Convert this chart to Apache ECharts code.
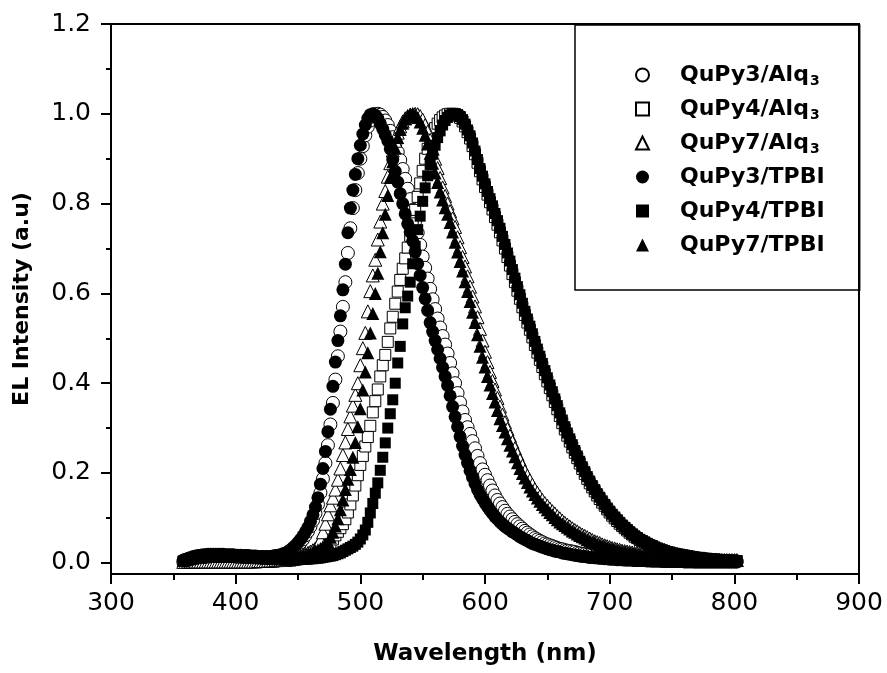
<!DOCTYPE html>
<html>
<head>
<meta charset="utf-8">
<script src="https://cdn.jsdelivr.net/npm/echarts@6/dist/echarts.min.js"></script>
<style>
  html, body { margin: 0; background: #fff; }
  #chart { width: 887px; height: 673px; }
</style>
</head>
<body>
<div id="chart"></div>
<script>
// wavelength grid of the spectra (nm)
const wlStart = 358
const wlStep = 2

// EL intensity, one value per 2 nm from 358 to 802 nm (rows of 20 nm)
const qupy3Alq3 = [
  0.002, 0.003, 0.003, 0.003, 0.004, 0.004, 0.004, 0.004, 0.004, 0.004,
  0.004, 0.004, 0.004, 0.004, 0.004, 0.004, 0.004, 0.004, 0.004, 0.004,
  0.004, 0.004, 0.004, 0.004, 0.004, 0.004, 0.004, 0.004, 0.004, 0.004,
  0.004, 0.004, 0.004, 0.005, 0.005, 0.006, 0.007, 0.008, 0.010, 0.012,
  0.014, 0.016, 0.019, 0.023, 0.027, 0.032, 0.038, 0.045, 0.052, 0.061,
  0.070, 0.081, 0.094, 0.110, 0.130, 0.156, 0.187, 0.222, 0.262, 0.308,
  0.356, 0.408, 0.460, 0.515, 0.570, 0.625, 0.690, 0.745, 0.790, 0.830,
  0.868, 0.900, 0.928, 0.952, 0.971, 0.985, 0.994, 0.999, 1.000, 0.998,
  0.993, 0.985, 0.975, 0.962, 0.948, 0.932, 0.915, 0.897, 0.877, 0.855,
  0.833, 0.810, 0.786, 0.761, 0.735, 0.708, 0.682, 0.657, 0.633, 0.610,
  0.587, 0.565, 0.544, 0.524, 0.505, 0.486, 0.466, 0.445, 0.422, 0.400,
  0.378, 0.357, 0.337, 0.318, 0.302, 0.287, 0.271, 0.255, 0.238, 0.222,
  0.208, 0.196, 0.184, 0.172, 0.161, 0.150, 0.140, 0.132, 0.124, 0.116,
  0.109, 0.103, 0.097, 0.091, 0.086, 0.081, 0.076, 0.071, 0.067, 0.063,
  0.059, 0.055, 0.052, 0.049, 0.046, 0.043, 0.041, 0.039, 0.037, 0.035,
  0.033, 0.031, 0.030, 0.028, 0.027, 0.026, 0.025, 0.024, 0.022, 0.021,
  0.020, 0.019, 0.018, 0.017, 0.016, 0.015, 0.015, 0.014, 0.013, 0.013,
  0.012, 0.012, 0.011, 0.010, 0.010, 0.009, 0.009, 0.009, 0.008, 0.008,
  0.008, 0.007, 0.007, 0.007, 0.006, 0.006, 0.006, 0.006, 0.005, 0.005,
  0.005, 0.005, 0.005, 0.005, 0.005, 0.004, 0.004, 0.004, 0.004, 0.004,
  0.004, 0.004, 0.004, 0.004, 0.004, 0.003, 0.003, 0.003, 0.003, 0.003,
  0.003, 0.003, 0.003, 0.003, 0.003, 0.003, 0.003, 0.003, 0.003, 0.003,
  0.003, 0.003, 0.003
]
const qupy4Alq3 = [
  0.002, 0.002, 0.002, 0.003, 0.003, 0.003, 0.003, 0.003, 0.003, 0.003,
  0.003, 0.003, 0.003, 0.003, 0.003, 0.003, 0.003, 0.003, 0.003, 0.003,
  0.003, 0.003, 0.003, 0.003, 0.003, 0.003, 0.003, 0.003, 0.003, 0.003,
  0.003, 0.003, 0.003, 0.003, 0.003, 0.003, 0.003, 0.004, 0.004, 0.004,
  0.004, 0.004, 0.005, 0.005, 0.006, 0.007, 0.008, 0.010, 0.012, 0.014,
  0.016, 0.019, 0.022, 0.025, 0.028, 0.031, 0.034, 0.037, 0.040, 0.044,
  0.052, 0.061, 0.069, 0.077, 0.086, 0.097, 0.112, 0.130, 0.150, 0.172,
  0.195, 0.218, 0.238, 0.259, 0.280, 0.305, 0.335, 0.360, 0.386, 0.415,
  0.440, 0.463, 0.492, 0.522, 0.548, 0.577, 0.604, 0.630, 0.655, 0.678,
  0.702, 0.728, 0.756, 0.786, 0.815, 0.845, 0.873, 0.900, 0.922, 0.940,
  0.955, 0.968, 0.978, 0.986, 0.992, 0.996, 0.999, 1.000, 1.000, 0.999,
  0.996, 0.991, 0.983, 0.972, 0.959, 0.945, 0.928, 0.910, 0.891, 0.872,
  0.854, 0.837, 0.820, 0.803, 0.787, 0.770, 0.753, 0.736, 0.718, 0.700,
  0.681, 0.662, 0.643, 0.625, 0.606, 0.588, 0.569, 0.552, 0.535, 0.519,
  0.502, 0.485, 0.468, 0.452, 0.436, 0.420, 0.404, 0.389, 0.373, 0.358,
  0.342, 0.327, 0.311, 0.297, 0.283, 0.270, 0.257, 0.245, 0.233, 0.221,
  0.209, 0.198, 0.187, 0.177, 0.168, 0.159, 0.150, 0.142, 0.134, 0.127,
  0.119, 0.112, 0.105, 0.099, 0.093, 0.087, 0.082, 0.077, 0.072, 0.067,
  0.063, 0.058, 0.055, 0.051, 0.048, 0.045, 0.042, 0.039, 0.037, 0.034,
  0.032, 0.030, 0.028, 0.026, 0.024, 0.023, 0.021, 0.020, 0.019, 0.018,
  0.017, 0.016, 0.015, 0.014, 0.013, 0.012, 0.011, 0.011, 0.010, 0.009,
  0.009, 0.008, 0.008, 0.007, 0.007, 0.006, 0.006, 0.006, 0.005, 0.005,
  0.005, 0.004, 0.004
]
const qupy7Alq3 = [
  0.002, 0.002, 0.003, 0.003, 0.003, 0.003, 0.003, 0.003, 0.003, 0.003,
  0.003, 0.003, 0.003, 0.003, 0.003, 0.003, 0.003, 0.003, 0.003, 0.003,
  0.003, 0.003, 0.003, 0.003, 0.003, 0.003, 0.003, 0.003, 0.003, 0.003,
  0.004, 0.004, 0.004, 0.004, 0.005, 0.005, 0.005, 0.006, 0.006, 0.007,
  0.007, 0.008, 0.009, 0.010, 0.011, 0.012, 0.014, 0.016, 0.018, 0.020,
  0.022, 0.025, 0.028, 0.032, 0.040, 0.051, 0.068, 0.087, 0.108, 0.128,
  0.145, 0.163, 0.185, 0.210, 0.240, 0.268, 0.298, 0.326, 0.350, 0.374,
  0.400, 0.440, 0.478, 0.512, 0.560, 0.605, 0.640, 0.675, 0.720, 0.760,
  0.800, 0.828, 0.860, 0.890, 0.918, 0.940, 0.958, 0.972, 0.983, 0.990,
  0.995, 0.998, 0.999, 1.000, 0.999, 0.995, 0.987, 0.975, 0.960, 0.942,
  0.922, 0.900, 0.879, 0.857, 0.836, 0.817, 0.800, 0.783, 0.767, 0.748,
  0.725, 0.703, 0.681, 0.660, 0.638, 0.615, 0.593, 0.571, 0.547, 0.521,
  0.495, 0.470, 0.447, 0.425, 0.405, 0.386, 0.367, 0.348, 0.330, 0.313,
  0.298, 0.283, 0.269, 0.255, 0.242, 0.229, 0.216, 0.204, 0.194, 0.184,
  0.174, 0.164, 0.156, 0.148, 0.140, 0.133, 0.127, 0.121, 0.115, 0.110,
  0.104, 0.099, 0.094, 0.089, 0.085, 0.081, 0.077, 0.073, 0.070, 0.066,
  0.063, 0.060, 0.057, 0.054, 0.051, 0.048, 0.046, 0.044, 0.041, 0.039,
  0.037, 0.035, 0.033, 0.032, 0.030, 0.029, 0.027, 0.026, 0.025, 0.024,
  0.023, 0.022, 0.021, 0.020, 0.019, 0.018, 0.017, 0.016, 0.016, 0.015,
  0.014, 0.014, 0.013, 0.013, 0.012, 0.012, 0.011, 0.011, 0.011, 0.010,
  0.010, 0.010, 0.009, 0.009, 0.009, 0.009, 0.008, 0.008, 0.008, 0.008,
  0.007, 0.007, 0.007, 0.007, 0.007, 0.007, 0.006, 0.006, 0.006, 0.006,
  0.006, 0.006, 0.006
]
const qupy3Tpbi = [
  0.006, 0.008, 0.010, 0.012, 0.014, 0.015, 0.016, 0.017, 0.018, 0.018,
  0.019, 0.019, 0.019, 0.019, 0.019, 0.019, 0.019, 0.018, 0.018, 0.018,
  0.018, 0.017, 0.017, 0.017, 0.016, 0.016, 0.016, 0.015, 0.015, 0.015,
  0.014, 0.014, 0.014, 0.014, 0.014, 0.014, 0.015, 0.016, 0.017, 0.018,
  0.020, 0.022, 0.025, 0.029, 0.034, 0.039, 0.045, 0.052, 0.060, 0.069,
  0.079, 0.092, 0.107, 0.124, 0.145, 0.175, 0.210, 0.248, 0.292, 0.342,
  0.393, 0.447, 0.495, 0.550, 0.608, 0.665, 0.735, 0.790, 0.830, 0.865,
  0.900, 0.930, 0.955, 0.975, 0.990, 0.998, 1.000, 0.997, 0.990, 0.978,
  0.966, 0.953, 0.940, 0.922, 0.898, 0.872, 0.848, 0.822, 0.800, 0.777,
  0.755, 0.737, 0.717, 0.692, 0.666, 0.640, 0.613, 0.588, 0.562, 0.535,
  0.515, 0.495, 0.475, 0.455, 0.435, 0.415, 0.395, 0.372, 0.348, 0.325,
  0.303, 0.281, 0.260, 0.240, 0.222, 0.205, 0.190, 0.176, 0.163, 0.152,
  0.142, 0.133, 0.125, 0.117, 0.110, 0.103, 0.097, 0.091, 0.086, 0.081,
  0.077, 0.073, 0.069, 0.066, 0.062, 0.058, 0.055, 0.052, 0.049, 0.046,
  0.043, 0.041, 0.039, 0.037, 0.035, 0.033, 0.031, 0.029, 0.028, 0.026,
  0.025, 0.024, 0.022, 0.021, 0.020, 0.019, 0.018, 0.017, 0.016, 0.015,
  0.014, 0.014, 0.013, 0.012, 0.012, 0.011, 0.011, 0.010, 0.010, 0.009,
  0.009, 0.008, 0.008, 0.008, 0.007, 0.007, 0.007, 0.006, 0.006, 0.006,
  0.006, 0.005, 0.005, 0.005, 0.005, 0.005, 0.004, 0.004, 0.004, 0.004,
  0.004, 0.004, 0.003, 0.003, 0.003, 0.003, 0.003, 0.003, 0.003, 0.003,
  0.003, 0.002, 0.002, 0.002, 0.002, 0.002, 0.002, 0.002, 0.002, 0.002,
  0.002, 0.002, 0.002, 0.002, 0.002, 0.002, 0.002, 0.002, 0.002, 0.002,
  0.002, 0.002, 0.002
]
const qupy4Tpbi = [
  0.004, 0.005, 0.006, 0.007, 0.008, 0.009, 0.010, 0.010, 0.011, 0.011,
  0.012, 0.012, 0.012, 0.012, 0.012, 0.012, 0.012, 0.012, 0.012, 0.012,
  0.012, 0.012, 0.011, 0.011, 0.011, 0.011, 0.010, 0.010, 0.010, 0.010,
  0.009, 0.009, 0.009, 0.008, 0.008, 0.008, 0.008, 0.007, 0.007, 0.007,
  0.007, 0.007, 0.007, 0.007, 0.007, 0.007, 0.007, 0.008, 0.008, 0.008,
  0.008, 0.009, 0.009, 0.010, 0.010, 0.011, 0.012, 0.013, 0.014, 0.015,
  0.016, 0.018, 0.020, 0.022, 0.025, 0.028, 0.031, 0.034, 0.037, 0.041,
  0.046, 0.053, 0.062, 0.073, 0.090, 0.111, 0.132, 0.155, 0.178, 0.206,
  0.235, 0.267, 0.300, 0.332, 0.363, 0.400, 0.445, 0.482, 0.532, 0.568,
  0.594, 0.625, 0.666, 0.705, 0.742, 0.772, 0.805, 0.835, 0.862, 0.887,
  0.910, 0.930, 0.947, 0.962, 0.975, 0.985, 0.992, 0.997, 1.000, 1.000,
  0.998, 0.994, 0.987, 0.977, 0.964, 0.951, 0.935, 0.917, 0.898, 0.878,
  0.861, 0.844, 0.827, 0.811, 0.795, 0.778, 0.762, 0.745, 0.727, 0.709,
  0.690, 0.672, 0.653, 0.634, 0.615, 0.597, 0.578, 0.560, 0.543, 0.527,
  0.510, 0.493, 0.476, 0.460, 0.444, 0.428, 0.412, 0.396, 0.381, 0.365,
  0.350, 0.334, 0.318, 0.303, 0.289, 0.276, 0.263, 0.250, 0.238, 0.226,
  0.214, 0.203, 0.192, 0.182, 0.172, 0.163, 0.154, 0.146, 0.138, 0.130,
  0.122, 0.115, 0.108, 0.102, 0.096, 0.090, 0.084, 0.079, 0.074, 0.069,
  0.064, 0.060, 0.056, 0.052, 0.049, 0.046, 0.043, 0.040, 0.038, 0.035,
  0.032, 0.030, 0.028, 0.026, 0.025, 0.023, 0.022, 0.020, 0.019, 0.018,
  0.017, 0.016, 0.015, 0.014, 0.013, 0.012, 0.011, 0.011, 0.010, 0.009,
  0.009, 0.008, 0.008, 0.007, 0.007, 0.006, 0.006, 0.006, 0.005, 0.005,
  0.005, 0.004, 0.004
]
const qupy7Tpbi = [
  0.005, 0.007, 0.009, 0.011, 0.013, 0.014, 0.015, 0.016, 0.017, 0.017,
  0.018, 0.018, 0.018, 0.018, 0.018, 0.018, 0.018, 0.017, 0.017, 0.017,
  0.017, 0.016, 0.016, 0.016, 0.015, 0.015, 0.015, 0.014, 0.014, 0.014,
  0.013, 0.013, 0.012, 0.012, 0.012, 0.011, 0.011, 0.011, 0.011, 0.011,
  0.011, 0.011, 0.011, 0.012, 0.012, 0.013, 0.014, 0.015, 0.016, 0.018,
  0.019, 0.021, 0.023, 0.026, 0.029, 0.032, 0.036, 0.041, 0.047, 0.057,
  0.068, 0.082, 0.098, 0.118, 0.140, 0.163, 0.186, 0.208, 0.235, 0.268,
  0.303, 0.343, 0.385, 0.425, 0.468, 0.512, 0.555, 0.600, 0.645, 0.693,
  0.735, 0.776, 0.818, 0.858, 0.893, 0.923, 0.947, 0.965, 0.979, 0.989,
  0.995, 0.999, 1.000, 0.998, 0.992, 0.982, 0.968, 0.952, 0.933, 0.912,
  0.890, 0.868, 0.847, 0.826, 0.808, 0.791, 0.776, 0.758, 0.737, 0.714,
  0.692, 0.671, 0.650, 0.626, 0.604, 0.582, 0.558, 0.535, 0.508, 0.482,
  0.458, 0.436, 0.415, 0.396, 0.377, 0.358, 0.339, 0.321, 0.306, 0.291,
  0.276, 0.262, 0.249, 0.236, 0.223, 0.210, 0.199, 0.189, 0.179, 0.169,
  0.160, 0.152, 0.144, 0.137, 0.130, 0.124, 0.118, 0.112, 0.107, 0.101,
  0.096, 0.091, 0.087, 0.083, 0.079, 0.075, 0.071, 0.068, 0.064, 0.061,
  0.058, 0.055, 0.052, 0.049, 0.047, 0.045, 0.042, 0.040, 0.038, 0.036,
  0.034, 0.032, 0.031, 0.029, 0.028, 0.026, 0.025, 0.024, 0.023, 0.022,
  0.021, 0.020, 0.019, 0.018, 0.017, 0.016, 0.016, 0.015, 0.014, 0.014,
  0.013, 0.013, 0.012, 0.012, 0.011, 0.011, 0.010, 0.010, 0.010, 0.009,
  0.009, 0.009, 0.008, 0.008, 0.008, 0.008, 0.007, 0.007, 0.007, 0.007,
  0.006, 0.006, 0.006, 0.006, 0.006, 0.006, 0.005, 0.005, 0.005, 0.005,
  0.005, 0.005, 0.005
]

const seriesNames = ['QuPy3/Alq3', 'QuPy4/Alq3', 'QuPy7/Alq3', 'QuPy3/TPBI', 'QuPy4/TPBI', 'QuPy7/TPBI']
const seriesValues = [qupy3Alq3, qupy4Alq3, qupy7Alq3, qupy3Tpbi, qupy4Tpbi, qupy7Tpbi]
const xTicks = [300, 400, 500, 600, 700, 800, 900]
const yTicks = [0, 0.2, 0.4, 0.6, 0.8, 1.0, 1.2]
const yMinorTicks = [0.1, 0.3, 0.5, 0.7, 0.9, 1.1]

// marker per series: open symbols for Alq3, filled for TPBI
const markers = [
  { symbol: 'circle', size: 13, open: true },
  { symbol: 'rect', size: 11, open: true },
  { symbol: 'triangle', size: 13, open: true },
  { symbol: 'circle', size: 13, open: false },
  { symbol: 'rect', size: 11, open: false },
  { symbol: 'triangle', size: 13, open: false }
]

const FONT = 'DejaVu Sans'
const chart = echarts.init(document.getElementById('chart'))

const toPoints = (vals) => vals.map((v, i) => [wlStart + i * wlStep, v])

const series = seriesNames.map((name, k) => ({
  name: name,
  type: 'scatter',
  data: toPoints(seriesValues[k]),
  symbol: markers[k].symbol,
  symbolSize: markers[k].size,
  itemStyle: {
    color: markers[k].open ? '#ffffff' : '#000000',
    borderColor: '#000000',
    borderWidth: markers[k].open ? 1 : 0,
    opacity: 1
  },
  emphasis: { disabled: true },
  silent: true
}))

const tickLine = { color: '#000', width: 2 }

const option = {
  animation: false,
  backgroundColor: '#fff',
  textStyle: { fontFamily: FONT },
  grid: {
    left: 111, right: 28, top: 24, bottom: 99,
    show: true, borderColor: '#000', borderWidth: 2, backgroundColor: 'transparent'
  },
  legend: {
    orient: 'vertical',
    left: 575,
    top: 25,
    padding: [37, 35, 32, 60],
    itemWidth: 13,
    itemHeight: 13,
    itemGap: 8,
    borderColor: '#000',
    borderWidth: 1.5,
    selectedMode: false,
    data: seriesNames,
    formatter: (name) => name.endsWith('Alq3')
      ? '{g|}{m|' + name.slice(0, -1) + '}{s|3}'
      : '{g|}{m|' + name + '}',
    textStyle: {
      color: '#000',
      fontFamily: FONT,
      fontWeight: 'bold',
      fontSize: 22,
      lineHeight: 26,
      rich: {
        g: { width: 26, lineHeight: 26 },
        m: { fontFamily: FONT, fontWeight: 'bold', fontSize: 22, lineHeight: 26, color: '#000' },
        s: { fontFamily: FONT, fontWeight: 'bold', fontSize: 14, lineHeight: 10, verticalAlign: 'bottom', padding: [0, 0, 0, 1], color: '#000' }
      }
    }
  },
  xAxis: {
    type: 'value',
    min: xTicks[0],
    max: xTicks[xTicks.length - 1],
    interval: 100,
    name: 'Wavelength (nm)',
    nameLocation: 'middle',
    nameGap: 69,
    nameTextStyle: { fontFamily: FONT, fontWeight: 'bold', fontSize: 23, color: '#000' },
    axisLine: { onZero: false, lineStyle: tickLine },
    axisTick: { length: 10, lineStyle: tickLine },
    minorTick: { show: true, splitNumber: 2, length: 6, lineStyle: tickLine },
    axisLabel: { color: '#000', fontFamily: FONT, fontSize: 25, margin: 17 },
    splitLine: { show: false }
  },
  yAxis: [
    {
      type: 'value',
      min: -0.025,
      max: 1.2,
      name: 'EL Intensity (a.u)',
      nameLocation: 'middle',
      nameGap: 78,
      nameTextStyle: { fontFamily: FONT, fontWeight: 'bold', fontSize: 22, color: '#000' },
      axisLine: { show: true, onZero: false, lineStyle: tickLine },
      axisTick: { show: true, length: 10, lineStyle: tickLine, customValues: yTicks },
      axisLabel: {
        color: '#000', fontFamily: FONT, fontSize: 25, margin: 20,
        customValues: yTicks,
        formatter: (v) => v.toFixed(1)
      },
      splitLine: { show: false }
    },
    {
      // minor ticks only
      type: 'value',
      min: -0.025,
      max: 1.2,
      position: 'left',
      axisLine: { show: false, onZero: false },
      axisTick: { show: true, length: 5, lineStyle: tickLine, customValues: yMinorTicks },
      axisLabel: { show: false },
      splitLine: { show: false }
    }
  ],
  series: series
}

chart.setOption(option)
</script>
</body>
</html>
